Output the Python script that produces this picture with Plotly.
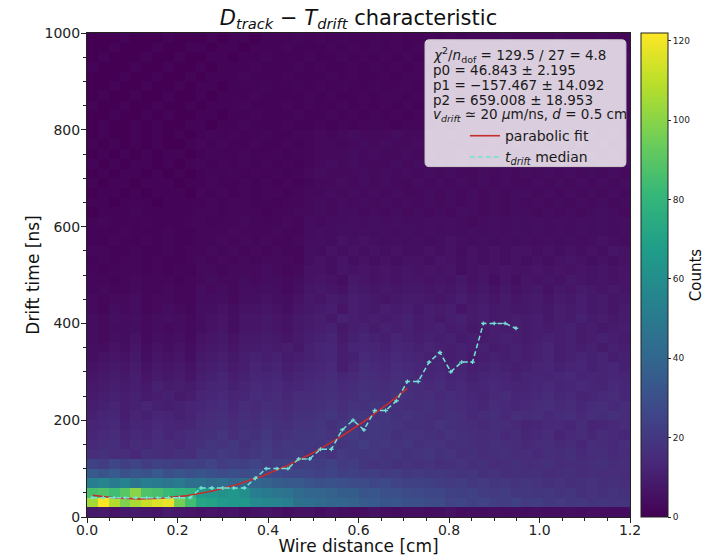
import numpy as np
import plotly.graph_objects as go

# ---- 2D histogram: wire distance (cm) vs drift time (ns), 50 x 50 bins ----
x_edges = np.linspace(0.0, 1.2, 51)
y_edges = np.linspace(0.0, 1000.0, 51)

# lowest drift-time rows (0-120 ns), counts per distance bin
rows_low = [
    [8, 9, 7, 8, 9, 8, 7, 9, 8, 7, 6, 7, 6, 7, 5, 6, 7, 6, 5, 6, 6, 5, 6, 5, 4,
     5, 6, 5, 4, 5, 5, 4, 5, 6, 4, 5, 4, 5, 4, 5, 4, 5, 4, 4, 5, 4, 5, 4, 4, 4],
    [105, 122, 108, 98, 106, 112, 116, 118, 96, 84, 72, 70, 66, 64, 64, 58, 56, 55, 52, 45,
     44, 42, 40, 40, 38, 35, 34, 32, 33, 30, 30, 28, 28, 25, 26, 24, 25, 23, 22, 24,
     21, 22, 20, 21, 19, 20, 18, 19, 18, 18],
    [86, 88, 84, 90, 100, 88, 86, 82, 80, 78, 66, 64, 62, 64, 60, 52, 50, 48, 46, 42,
     40, 40, 38, 36, 36, 32, 33, 30, 30, 28, 27, 26, 26, 24, 23, 24, 22, 21, 22, 20,
     20, 19, 20, 18, 19, 17, 18, 17, 18, 17],
    [52, 55, 50, 54, 48, 52, 50, 48, 50, 45, 45, 42, 44, 40, 42, 40, 38, 36, 34, 34,
     32, 30, 31, 30, 28, 28, 26, 27, 25, 24, 24, 23, 22, 21, 22, 20, 21, 19, 20, 18,
     19, 18, 17, 18, 16, 17, 18, 16, 17, 16],
    [34, 32, 35, 30, 33, 31, 34, 30, 32, 30, 32, 30, 28, 30, 28, 30, 28, 27, 26, 26,
     25, 24, 25, 23, 24, 22, 23, 21, 22, 20, 21, 20, 20, 19, 18, 19, 17, 18, 16, 17,
     16, 17, 15, 16, 17, 15, 16, 15, 16, 15],
    [24, 22, 26, 23, 25, 22, 24, 23, 22, 24, 23, 25, 22, 24, 23, 25, 22, 23, 24, 22,
     23, 22, 24, 21, 22, 19, 18, 19, 17, 18, 17, 18, 16, 17, 18, 16, 17, 15, 16, 17,
     15, 16, 17, 15, 16, 15, 16, 17, 15, 16],
]

# rows from 120 ns upward, one base-36 digit per bin (0-9, a=10 ... z=35)
rows_high = [
    "ghfgehgfhg kjlkikmjkl jkilkjkijh ijhighfghf gegfhefgef",
    "efgdfegfeg hjikhjlikj kjlikmjkij hiighgfhgf efgefdgfeg",
    "defcedfdef ghjgihkhij jkikljkjhi ihgihgfgef defcefdfed",
    "cdebdcedcd fghfhgihgi ijhjkikjih hgihgfegfe cdeedfcdef",
    "bcdacbdcbc efgegfhgfh hijhjkijhi hgfhgefgeg fgefgegfhf",
    "abcabcbabc defdfegfeg ghigihjihg ghfgfedfed efgefdfgef",
    "9abab9ab9a cdecdfefdf fghfgihgih fgefedcefd defdecdefd",
    "89a9a8b9a9 bcdbcedecd efgefhgfhg fefdecdedc cdecdedced",
    "7898a79897 abcabdcdbc defdegfegf edecdbcdcb cdcdecdcdc",
    "6787968786 9ab9acbcab cdeacfedfe dcdbcabcba bcdbcdbcdb",
    "5676857675 89a8abab9a bcdabedced cbcab9abab abcabcbcab",
    "5465746564 789799a9a8 bcdacdcbdc bcbabab9ab abcabab9ba",
    "4354635453 6786889879 abc9bcbacb abab9a9aba 9abab9aba9",
    "4344534343 5675778768 9ab8ab9bab 9ab9a89a9a 9a9ab9a89a",
    "4354534543 5675778768 9a8ba9a9ab 9a8ab9a89a 9a8a9b9a89",
    "3243423432 5564667657 89a7a98a9a 8a9a79a898 898a9a8979",
    "3233423322 4453556546 8798a98789 9878a89797 89798a8978",
    "2322322322 4343445435 7876987878 8787978686 7868798787",
    "2212322212 3433434434 6765876767 7676867575 7676876767",
    "2122212121 3323334323 6657676767 6767567676 6767676767",
    "1212212112 3232323332 5657565656 6576565656 5656765656",
    "2211211212 2323232322 5465656565 5656465656 6565656576",
    "1121121211 2232323223 4546565454 5456545454 5454545654",
    "1112111211 2223222322 4545454545 4545454545 4545454545",
    "1211121112 2122322232 4344545454 4545434545 4545454545",
    "0111211111 2212221223 3434434343 4343543434 4343434543",
    "1101110111 1212212122 3434343434 3434343434 3434343434",
    "0110101110 2121212212 3343434343 3434343434 4343434343",
    "1011011101 1211212121 2334343433 4343434343 3434343434",
    "0101101010 1212121212 3433343434 3434334343 4343434343",
    "1010110101 2121212121 2343433343 4343433434 3434343434",
    "0101010110 1211211212 2333434334 3433434343 4343434343",
    "1010101001 2121121121 2332343433 4343343434 3434343434",
    "0100101010 1212112112 2323433343 3434334343 4343434343",
    "0100101001 1011211121 1212122212 2121222322 2322232232",
    "0010010100 1101121112 1121212121 2212122232 3232223223",
    "1001001001 0111211121 2112121212 1221222322 2223232322",
    "0100100100 1011121111 2121121221 2122122232 3223222322",
    "0010010010 1101112112 1212112122 1221222323 2232322232",
    "0001001001 0111211121 1121211212 2212122232 3222322322",
    "1000100100 1011121112 1211212121 2121222322 2322232232",
    "0100010010 0110112111 2112121212 1212122232 3232223223",
    "0010001001 1011011121 1121212121 2121222322 2322232232",
    "0001000100 0101101112 1212112121 1212122232 2223222322",
]

counts = [list(r) for r in rows_low]
for s in rows_high:
    counts.append([int(ch, 36) for ch in s.replace(" ", "")])
counts = np.array(counts, dtype=float)

x_centers = 0.5 * (x_edges[:-1] + x_edges[1:])
y_centers = 0.5 * (y_edges[:-1] + y_edges[1:])

# ---- median drift time per distance bin ----
median_x = x_centers[:40]
median_t = [40, 40, 40, 40, 40, 40, 40, 40, 40, 40,
            60, 60, 60, 60, 60, 80, 100, 100, 100, 120,
            120, 140, 140, 180, 200, 180, 220, 220, 240, 280,
            280, 320, 340, 300, 320, 320, 400, 400, 400, 390]

# ---- parabolic fit t = p0 + p1*x + p2*x^2 over the first 30 median points ----
p0, p1, p2 = 46.843, -157.467, 659.008
fit_x = np.linspace(median_x[0], median_x[29], 120)
fit_t = p0 + p1 * fit_x + p2 * fit_x ** 2

FONT = "DejaVu Sans"
MEDIAN_COLOR = "#74e2d2"
FIT_COLOR = "#c62c2c"

fig = go.Figure()

fig.add_trace(go.Heatmap(
    x=x_centers, y=y_centers, z=counts,
    colorscale="Viridis", zmin=0, zmax=122,
    showscale=True, hoverinfo="skip", showlegend=False,
    colorbar=dict(
        thickness=27, len=1.0, lenmode="fraction", y=0.5, yanchor="middle",
        x=1.0204, xanchor="left", xpad=0, ypad=0,
        outlinewidth=1, outlinecolor="#222",
        tickmode="array", tickvals=[0, 20, 40, 60, 80, 100, 120],
        ticks="outside", ticklen=3, tickwidth=1, tickcolor="#222",
        tickfont=dict(family=FONT, size=9, color="#222"),
        title=dict(text="Counts", side="right", font=dict(family=FONT, size=15, color="#111")),
    ),
))

fig.add_trace(go.Scatter(
    x=fit_x, y=fit_t, mode="lines", name="parabolic fit",
    line=dict(color=FIT_COLOR, width=1.6),
))

fig.add_trace(go.Scatter(
    x=median_x, y=median_t, mode="lines",
    name="<i>t</i><sub><i>drift</i></sub> median",
    line=dict(color=MEDIAN_COLOR, width=1.5, dash="5px,3px"),
    error_x=dict(type="constant", value=0.005, color=MEDIAN_COLOR, thickness=1.3, width=0),
    error_y=dict(type="constant", value=4, color=MEDIAN_COLOR, thickness=1.3, width=0),
))

# statistics box with rounded corners (data coordinates)
bx0, bx1, by0, by1 = 0.747, 1.191, 724.0, 986.0
rx, ry = 0.009, 8.5
box_path = (
    f"M {bx0 + rx},{by0} L {bx1 - rx},{by0} Q {bx1},{by0} {bx1},{by0 + ry} "
    f"L {bx1},{by1 - ry} Q {bx1},{by1} {bx1 - rx},{by1} "
    f"L {bx0 + rx},{by1} Q {bx0},{by1} {bx0},{by1 - ry} "
    f"L {bx0},{by0 + ry} Q {bx0},{by0} {bx0 + rx},{by0} Z"
)
fig.add_shape(type="path", xref="x", yref="y", path=box_path,
              fillcolor="rgba(255,255,255,0.8)", line=dict(color="#cccccc", width=1), layer="above")

stat_lines = [
    "<i>χ</i><sup>2</sup>/<i>n</i><sub>dof</sub> = 129.5 / 27 = 4.8",
    "p0 = 46.843 ± 2.195",
    "p1 = −157.467 ± 14.092",
    "p2 = 659.008 ± 18.953",
    "<i>v</i><sub><i>drift</i></sub> ≃ 20 <i>μ</i>m/ns, <i>d</i> = 0.5 cm",
]
stat_y = [955, 924, 893, 862, 831]
for txt, yy in zip(stat_lines, stat_y):
    fig.add_annotation(x=0.760, y=yy, xref="x", yref="y", text=txt, showarrow=False,
                       xanchor="left", yanchor="middle",
                       font=dict(family=FONT, size=13.5, color="#1a1a1a"))

fig.update_layout(
    width=707, height=556,
    margin=dict(l=87, r=77, t=33, b=39, autoexpand=False),
    paper_bgcolor="white", plot_bgcolor="white",
    font=dict(family=FONT, color="#111"),
    title=dict(
        text="<i>D</i><sub><i>track</i></sub> − <i>T</i><sub><i>drift</i></sub> characteristic",
        x=0.5, xref="paper", xanchor="center", y=1, yref="container", yanchor="top", pad=dict(t=10),
        font=dict(family=FONT, size=21, color="#111"),
    ),
    showlegend=True,
    legend=dict(x=0.696, y=0.820, xanchor="left", yanchor="top", bgcolor="rgba(0,0,0,0)",
                borderwidth=0, font=dict(family=FONT, size=14, color="#1a1a1a"),
                tracegroupgap=0, itemwidth=30),
)

fig.update_xaxes(
    range=[0, 1.2], tickvals=[0, 0.2, 0.4, 0.6, 0.8, 1.0, 1.2],
    ticktext=["0.0", "0.2", "0.4", "0.6", "0.8", "1.0", "1.2"],
    ticks="outside", ticklen=5, tickwidth=1, tickcolor="#222", ticklabelstandoff=-5,
    minor=dict(dtick=0.05, ticks="outside", ticklen=3, tickcolor="#222", showgrid=False),
    showline=True, linecolor="#222", linewidth=1, mirror=True, showgrid=False, zeroline=False,
    tickfont=dict(family=FONT, size=14, color="#222"), automargin=False,
    title=dict(text="Wire distance [cm]", font=dict(family=FONT, size=17, color="#111"), standoff=4),
)
fig.update_yaxes(
    range=[0, 1000], tickvals=[0, 200, 400, 600, 800, 1000],
    ticks="outside", ticklen=5, tickwidth=1, tickcolor="#222", ticklabelstandoff=-2,
    minor=dict(dtick=50, ticks="outside", ticklen=3, tickcolor="#222", showgrid=False),
    showline=True, linecolor="#222", linewidth=1, mirror=True, showgrid=False, zeroline=False,
    tickfont=dict(family=FONT, size=14, color="#222"), automargin=False,
    title=dict(text="Drift time [ns]", font=dict(family=FONT, size=17, color="#111"), standoff=0),
)

fig.write_html("out.html")
